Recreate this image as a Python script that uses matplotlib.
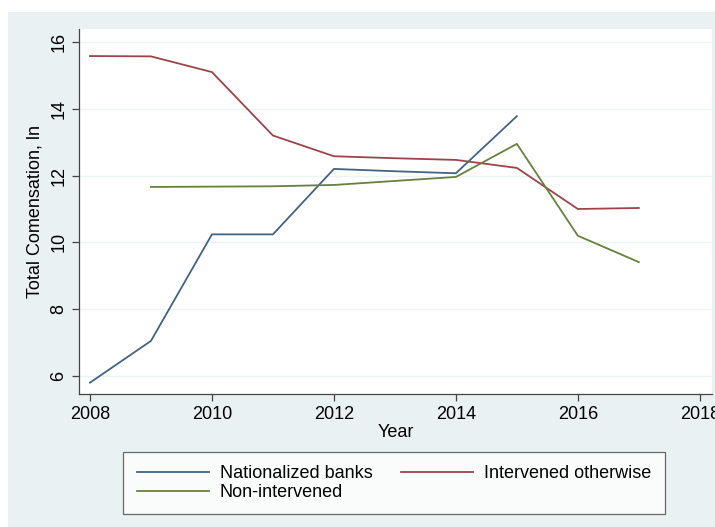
import matplotlib.pyplot as plt
from matplotlib.patches import Rectangle

plt.rcParams['font.family'] = ['Liberation Sans', 'DejaVu Sans']

years = [2008, 2009, 2010, 2011, 2012, 2013, 2014, 2015, 2016, 2017]

# nationalized banks: 2008-2015
nat_years = years[:8]
nationalized = [5.80, 7.05, 10.24, 10.24, 12.20, 12.13, 12.07, 13.78]

# intervened otherwise: 2008-2017
intervened = [15.58, 15.57, 15.10, 13.20, 12.58, 12.52, 12.47, 12.23, 11.00, 11.03]

# non-intervened: 2009-2017
non_years = years[1:]
non_intervened = [11.66, 11.67, 11.68, 11.72, 11.84, 11.96, 12.95, 10.20, 9.41]

bg = '#eaf1f3'
c_blue = '#426286'
c_red = '#9c4449'
c_green = '#66813e'

fig = plt.figure(figsize=(7.15, 5.27), dpi=100, facecolor='white')
# stata style outer region (small white margin top/left)
fig.patches.append(Rectangle((8/715, 0), 1, 1 - 12/527, transform=fig.transFigure,
                             facecolor=bg, edgecolor='none', zorder=-10))

ax = fig.add_axes([79/715, 1 - 394/527, (712 - 79)/715, (394 - 29)/527])
ax.set_facecolor('white')

ax.plot(nat_years, nationalized, color=c_blue, lw=1.3, label='Nationalized banks')
ax.plot(years, intervened, color=c_red, lw=1.3, label='Intervened otherwise')
ax.plot(non_years, non_intervened, color=c_green, lw=1.3, label='Non-intervened')

ax.set_xlim(2007.82, 2018.2)
ax.set_ylim(5.46, 16.39)
ax.set_xticks([2008, 2010, 2012, 2014, 2016, 2018])
ax.set_yticks([6, 8, 10, 12, 14, 16])
ax.grid(axis='y', color='#edf2f4', lw=1.0)
ax.set_axisbelow(True)

for s in ['top', 'right']:
    ax.spines[s].set_visible(False)
for s in ['left', 'bottom']:
    ax.spines[s].set_color('#444444')
    ax.spines[s].set_linewidth(0.9)

ax.tick_params(axis='both', labelsize=13, color='#444444', length=5, width=0.9)
plt.setp(ax.get_yticklabels(), rotation=90, va='center')

ax.set_xlabel('Year', fontsize=13, labelpad=1)
ax.set_ylabel('Total Comensation, ln', fontsize=13, labelpad=5)

handles, labels = ax.get_legend_handles_labels()
# column-major fill: gives row 1 = Nationalized / Intervened, row 2 = Non-intervened
order = [0, 2, 1]
leg = fig.legend([handles[i] for i in order], [labels[i] for i in order],
                 ncol=2, loc='center', bbox_to_anchor=(394/715, 1 - 483/527),
                 fontsize=13, frameon=True, fancybox=False, handlelength=4,
                 handletextpad=0.6, columnspacing=1.6, labelspacing=0.1,
                 borderpad=0.75)
leg.get_frame().set_edgecolor('#444444')
leg.get_frame().set_linewidth(0.9)

fig.savefig('out.png', dpi=100, facecolor=fig.get_facecolor())
